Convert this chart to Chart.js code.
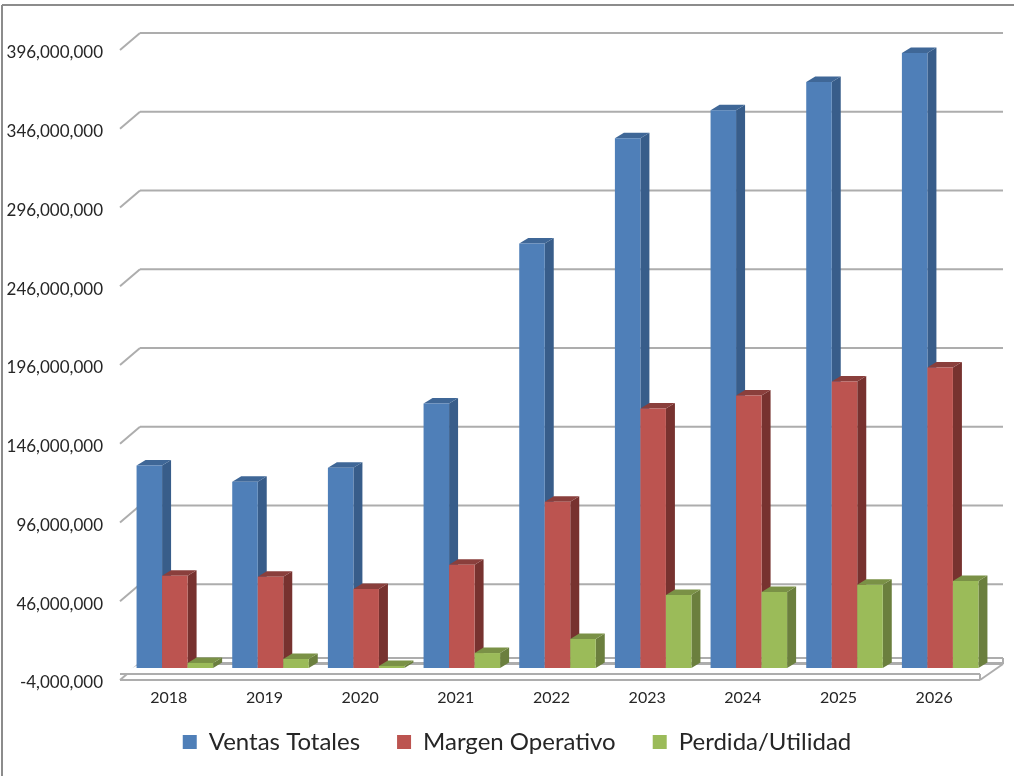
<!DOCTYPE html>
<html lang="es">
<head>
  <meta charset="UTF-8" />
  <title>Ventas</title>
  <script src="https://cdn.jsdelivr.net/npm/chart.js"></script>
  <style>
    html, body { margin: 0; padding: 0; background: #fff; }
    canvas { display: block; }
  </style>
</head>
<body>
  <canvas id="ventasChart" width="1014" height="776"></canvas>

  <script>
    const years = ['2018', '2019', '2020', '2021', '2022', '2023', '2024', '2025', '2026'];
    const ventasTotales = [124500000, 114300000, 123200000, 163900000, 265600000, 332400000, 350200000, 368000000, 386500000];
    const margenOperativo = [54500000, 53900000, 46200000, 61500000, 101600000, 160700000, 169000000, 177900000, 186800000];
    const perdidaUtilidad = [-800000, 1700000, -2700000, 5500000, 14400000, 42400000, 44300000, 48800000, 51300000];

    const axisMin = -4000000;
    const axisMax = 396000000;
    const axisStep = 50000000;

    const gridColor = '#adadad';

    // side and top colours per dataset, the front face is the normal bar
    const sideColors = ['#385d8a', '#77322f', '#6b7f3e'];
    const topColors = ['#3f6797', '#8a3f3c', '#7a9146'];
    const depthX = 9;
    const depthY = -5.5;

    function poly(ctx, pts, fill) {
      ctx.beginPath();
      ctx.moveTo(pts[0][0], pts[0][1]);
      pts.slice(1).forEach(p => ctx.lineTo(p[0], p[1]));
      ctx.closePath();
      ctx.fillStyle = fill;
      ctx.fill();
    }

    function line(ctx, x1, y1, x2, y2) {
      ctx.beginPath();
      ctx.moveTo(x1, y1);
      ctx.lineTo(x2, y2);
      ctx.stroke();
    }

    const wallPlugin = {
      id: 'wall',
      // legend sits higher and further right than chart.js would put it
      afterLayout(chart) {
        chart.legend.top -= 12;
        chart.legend.bottom -= 12;
        chart.legend.left += 23;
        chart.legend.right += 23;
      },
      beforeDatasetsDraw(chart) {
        const { ctx, chartArea, scales } = chart;
        const left = chartArea.left, right = chartArea.right;
        const base = scales.y.getPixelForValue(axisMin);

        ctx.save();
        ctx.strokeStyle = '#8c8c8c';
        ctx.lineWidth = 2;
        line(ctx, 2, 5, 2, 776);
        line(ctx, 2, 5, 1014, 5);

        // back wall
        ctx.strokeStyle = gridColor;
        scales.y.ticks.forEach(t => {
          const y = scales.y.getPixelForValue(t.value);
          line(ctx, left + 13, y - 5, right + 15, y - 5);
          line(ctx, left - 7, y + 12, left + 13, y - 5);
        });

        // floor plate
        poly(ctx, [[left + 13, base - 4], [right + 15, base - 4], [right - 8, base + 6], [left - 7, base + 6]], '#ffffff');
        line(ctx, left + 13, base - 10, right + 15, base - 10);
        line(ctx, left + 13, base - 4, right + 15, base - 4);
        line(ctx, left - 7, base + 6, right - 8, base + 6);
        line(ctx, left - 7, base + 12, right - 8, base + 12);
        line(ctx, right + 15, base - 4, right - 8, base + 12);
        line(ctx, right + 15, base - 10, right + 15, base - 4);
        line(ctx, right - 8, base + 6, right - 8, base + 12);

        // bars left to right so each one covers the side of the one before
        chart.getSortedVisibleDatasetMetas().forEach(meta => {
          const i = meta.index;
          meta.data.forEach(bar => {
            const p = bar.getProps(['x', 'y', 'base', 'width'], true);
            const x1 = p.x - p.width / 2;
            const x2 = p.x + p.width / 2;
            poly(ctx, [[x2, p.y], [x2 + depthX, p.y + depthY], [x2 + depthX, p.base + depthY], [x2, p.base]], sideColors[i]);
            poly(ctx, [[x1, p.y], [x1 + depthX, p.y + depthY], [x2 + depthX, p.y + depthY], [x2, p.y]], topColors[i]);
            bar.draw(ctx);
          });
        });
        ctx.restore();
        return false;
      }
    };

    new Chart(document.getElementById('ventasChart'), {
      type: 'bar',
      plugins: [wallPlugin],
      data: {
        labels: years,
        datasets: [
          { label: 'Ventas Totales', data: ventasTotales, backgroundColor: '#4f7fb8', base: axisMin },
          { label: 'Margen Operativo', data: margenOperativo, backgroundColor: '#bc5450', base: axisMin },
          { label: 'Perdida/Utilidad', data: perdidaUtilidad, backgroundColor: '#9bbb59', base: axisMin }
        ]
      },
      options: {
        responsive: false,
        animation: false,
        categoryPercentage: 0.8,
        barPercentage: 1,
        layout: { padding: { top: 38, right: 26, left: 0, bottom: 0 } },
        plugins: {
          tooltip: { enabled: false },
          legend: {
            position: 'bottom',
            labels: {
              boxWidth: 14,
              boxHeight: 14,
              padding: 37,
              color: '#262626',
              font: { family: 'Lato', size: 24 }
            }
          }
        },
        scales: {
          x: {
            grid: { display: false, drawTicks: false },
            border: { display: false },
            afterFit(scale) { scale.height = 37; },
            ticks: {
              color: '#262626',
              font: { family: 'Lato', size: 16 },
              padding: 20,
              labelOffset: -6,
              maxRotation: 0
            }
          },
          y: {
            min: axisMin,
            max: axisMax,
            grid: { display: false, drawTicks: false },
            border: { display: false },
            afterFit(scale) { scale.width = 127; },
            ticks: {
              stepSize: axisStep,
              color: '#262626',
              font: { family: 'Lato', size: 17 },
              padding: 24,
              labelOffset: 15,
              callback: v => v.toLocaleString('en-US')
            }
          }
        }
      }
    });
  </script>
</body>
</html>
